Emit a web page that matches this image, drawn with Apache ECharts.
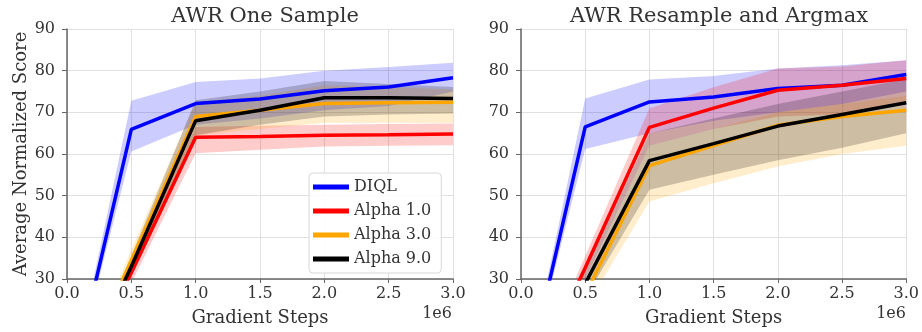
<!DOCTYPE html>
<html>
<head>
<meta charset="utf-8">
<script src="https://cdn.jsdelivr.net/npm/echarts@6/dist/echarts.min.js"></script>
<style>
    html,body{margin:0;padding:0;background:#fff}
    #chart{width:922px;height:332px}
</style>
</head>
<body>
<div id="chart"></div>
<script>
// x positions, in units of 1e6 gradient steps
const steps=[0,0.5,1.0,1.5,2.0,2.5,3.0]
const names=['DIQL','Alpha 1.0','Alpha 3.0','Alpha 9.0']
const colors=['#0000ff','#ff0000','#ffa500','#000000']
const bandColors=['rgba(0,0,255,0.2)','rgba(255,0,0,0.2)','rgba(255,165,0,0.2)','rgba(0,0,0,0.2)']

// AWR One Sample: means, lower and upper band
const oneDiql=[0,65.9,72.1,73.2,75.2,76.1,78.3]
const oneDiqlLo=[0,60.6,67,68.5,70.5,71.5,75]
const oneDiqlHi=[0,72.8,77.3,78.1,80,80.9,81.9]
const oneA1=[0,31.5,64,64.2,64.5,64.6,64.8]
const oneA1Lo=[0,29,60.2,61,61.8,62,62.1]
const oneA1Hi=[0,34,66.5,66.8,67,67.2,67.3]
const oneA3=[0,34.5,69,70.5,72.1,72.3,72.4]
const oneA3Lo=[0,32,64.5,66,67.5,67.5,67.5]
const oneA3Hi=[0,37,72.5,74,76.5,76,75.5]
const oneA9=[0,33,68,70.5,73.5,73.5,73.3]
const oneA9Lo=[0,30.5,64.5,67,69,69.5,69.7]
const oneA9Hi=[0,35.5,72.9,75,77.5,76.8,76.1]

// AWR Resample and Argmax
const resDiql=[0,66.5,72.5,73.7,75.7,76.5,79.1]
const resDiqlLo=[0,61.2,65,68,70,72,75]
const resDiqlHi=[0,73.3,77.9,78.7,80.5,81.3,82.5]
const resA1=[0,32.7,66.4,71,75.3,76.5,78.1]
const resA1Lo=[0,30,62,66,69,69.5,72]
const resA1Hi=[0,35.5,71,76,80.5,81,82.5]
const resA3=[0,26.3,57.2,62,66.9,69,70.5]
const resA3Lo=[0,23,48.6,53,57,60,62]
const resA3Hi=[0,29.5,62,66,70,72,74]
const resA9=[0,28.9,58.4,62.5,66.7,69.5,72.3]
const resA9Lo=[0,25.5,51.4,55,58.5,61.5,65]
const resA9Hi=[0,32,65,68.5,72,75,78]

const font='DejaVu Serif'
const textColor='#333'

function pairs(ys){
    return steps.map((x,i)=>[x,ys[i]])
}

// shaded band between lo and hi, drawn as one polygon through the axes
function bandSeries(idx,lo,hi,color){
    return {
        type:'custom',
        xAxisIndex:idx,yAxisIndex:idx,
        clip:true,
        silent:true,
        z:1,
        data:[[0,30]],
        renderItem:(params,api)=>{
            const top=steps.map((x,i)=>api.coord([x,hi[i]]))
            const bottom=steps.map((x,i)=>api.coord([x,lo[i]])).reverse()
            const cs=params.coordSys
            return {
                type:'group',
                clipPath:{type:'rect',shape:{x:cs.x,y:cs.y,width:cs.width,height:cs.height}},
                children:[{
                    type:'polygon',
                    shape:{points:top.concat(bottom)},
                    style:{fill:color}
                }]
            }
        }
    }
}

function lineSeries(idx,name,ys,color){
    return {
        name:name,
        type:'line',
        xAxisIndex:idx,yAxisIndex:idx,
        symbol:'none',
        lineStyle:{color:color,width:3.5},
        itemStyle:{color:color},
        data:pairs(ys),
        z:3
    }
}

function xAxisCfg(idx){
    return {
        type:'value',gridIndex:idx,min:0,max:3,interval:0.5,
        name:'Gradient Steps',nameLocation:'middle',nameGap:30,
        nameTextStyle:{fontFamily:font,fontSize:18,color:textColor},
        axisLine:{show:true,lineStyle:{color:'#666',width:1.5}},
        axisTick:{show:true,length:4,lineStyle:{color:'#666'}},
        axisLabel:{fontFamily:font,fontSize:16,color:textColor,margin:7,
            formatter:v=>v.toFixed(1)},
        splitLine:{show:true,lineStyle:{color:'#e0e0e0'}}
    }
}

function yAxisCfg(idx,withName){
    return {
        type:'value',gridIndex:idx,min:30,max:90,interval:10,
        name:withName?'Average Normalized Score':'',nameLocation:'middle',nameGap:37,
        nameTextStyle:{fontFamily:font,fontSize:18,color:textColor},
        axisLine:{show:true,lineStyle:{color:'#666',width:1.5}},
        axisTick:{show:true,length:5,lineStyle:{color:'#666'}},
        axisLabel:{fontFamily:font,fontSize:16,color:textColor,margin:12},
        splitLine:{show:true,lineStyle:{color:'#e0e0e0'}}
    }
}

const chart=echarts.init(document.getElementById('chart'))

const oneMeans=[oneDiql,oneA1,oneA3,oneA9]
const oneLo=[oneDiqlLo,oneA1Lo,oneA3Lo,oneA9Lo]
const oneHi=[oneDiqlHi,oneA1Hi,oneA3Hi,oneA9Hi]
const resMeans=[resDiql,resA1,resA3,resA9]
const resLo=[resDiqlLo,resA1Lo,resA3Lo,resA9Lo]
const resHi=[resDiqlHi,resA1Hi,resA3Hi,resA9Hi]

const series=[]
;[[oneLo,oneHi,oneMeans],[resLo,resHi,resMeans]].forEach(([lo,hi,means],g)=>{
    names.forEach((n,i)=>{
        series.push(bandSeries(g,lo[i],hi[i],bandColors[i]))
    })
    names.forEach((n,i)=>{
        series.push(lineSeries(g,n,means[i],colors[i]))
    })
})

chart.setOption({
    animation:false,
    backgroundColor:'#fff',
    title:[
        {text:'AWR One Sample',left:260,top:1,textAlign:'center',
            textStyle:{fontFamily:font,fontSize:21,fontWeight:'normal',color:textColor}},
        {text:'AWR Resample and Argmax',left:714,top:1,textAlign:'center',
            textStyle:{fontFamily:font,fontSize:21,fontWeight:'normal',color:textColor}}
    ],
    grid:[
        {left:67,right:469,top:29,bottom:53},
        {left:521,right:15,top:29,bottom:53}
    ],
    xAxis:[xAxisCfg(0),xAxisCfg(1)],
    yAxis:[yAxisCfg(0,true),yAxisCfg(1,false)],
    legend:{
        data:names,
        orient:'vertical',
        left:309,top:173,
        icon:'rect',
        itemWidth:36,itemHeight:5,itemGap:6,
        padding:[5,10,5,4],
        backgroundColor:'rgba(255,255,255,0.85)',
        borderColor:'#d8d8d8',borderWidth:1,borderRadius:4,
        textStyle:{fontFamily:font,fontSize:16,color:textColor,lineHeight:18}
    },
    graphic:[
        {type:'text',right:922-452,top:306,style:{text:'1e6',font:'16px "DejaVu Serif"',fill:textColor}},
        {type:'text',right:922-906,top:306,style:{text:'1e6',font:'16px "DejaVu Serif"',fill:textColor}}
    ],
    series:series
})
</script>
</body>
</html>
